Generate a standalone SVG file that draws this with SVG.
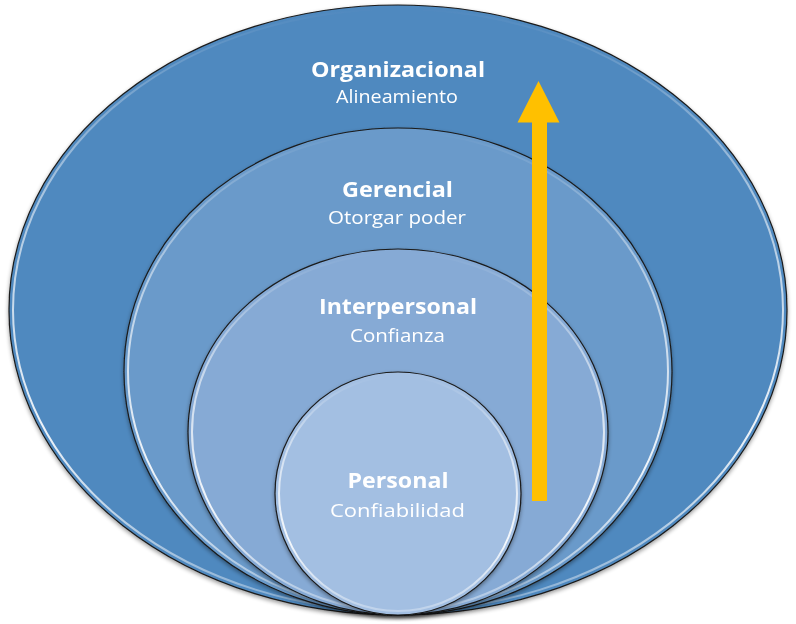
<svg xmlns="http://www.w3.org/2000/svg" width="796" height="624" viewBox="0 0 796 624">
<defs>
<linearGradient id="hl" x1="0" y1="0" x2="0" y2="1">
<stop offset="0" stop-color="#fff" stop-opacity="0"/>
<stop offset="0.3" stop-color="#fff" stop-opacity="0.5"/>
<stop offset="0.7" stop-color="#fff" stop-opacity="0.9"/>
<stop offset="1" stop-color="#fff" stop-opacity="0.3"/>
</linearGradient>
<filter id="sh" x="-5%" y="-5%" width="110%" height="110%">
<feGaussianBlur in="SourceAlpha" stdDeviation="2"/>
<feOffset dy="2"/>
<feComponentTransfer><feFuncA type="linear" slope="0.4"/></feComponentTransfer>
<feMerge><feMergeNode/><feMergeNode in="SourceGraphic"/></feMerge>
</filter>
</defs>
<style>
.ring{stroke:#1a1a1a;stroke-width:1.2}
.hl{fill:none;stroke:url(#hl);stroke-width:2}
.t{font-family:"Open Sans","Noto Sans","Liberation Sans",sans-serif;fill:#fff;text-anchor:middle}
.b{font-weight:bold;font-size:22px}
.r{font-size:18px}
</style>
<rect width="796" height="624" fill="#fff"/>
<g id="organizacional" filter="url(#sh)">
<ellipse class="ring" cx="398" cy="310" rx="389" ry="305" fill="#5089BF"/>
<ellipse class="hl" cx="398" cy="310" rx="385" ry="301"/>
<text class="t b" x="398" y="77" textLength="174" lengthAdjust="spacingAndGlyphs">Organizacional</text>
<text class="t r" x="397" y="103" textLength="122" lengthAdjust="spacingAndGlyphs">Alineamiento</text>
</g>
<g id="gerencial" filter="url(#sh)">
<ellipse class="ring" cx="398" cy="371.5" rx="274" ry="243.5" fill="#6A9ACA"/>
<ellipse class="hl" cx="398" cy="371.5" rx="270" ry="239.5"/>
<text class="t b" x="397.5" y="197" textLength="111" lengthAdjust="spacingAndGlyphs">Gerencial</text>
<text class="t r" x="397" y="224" textLength="138" lengthAdjust="spacingAndGlyphs">Otorgar poder</text>
</g>
<g id="interpersonal" filter="url(#sh)">
<ellipse class="ring" cx="398" cy="432" rx="210" ry="183" fill="#86AAD5"/>
<ellipse class="hl" cx="398" cy="432" rx="206" ry="179"/>
<text class="t b" x="398" y="314" textLength="158" lengthAdjust="spacingAndGlyphs">Interpersonal</text>
<text class="t r" x="397.5" y="342" textLength="95" lengthAdjust="spacingAndGlyphs">Confianza</text>
</g>
<g id="personal" filter="url(#sh)">
<ellipse class="ring" cx="398" cy="493.5" rx="123" ry="121.5" fill="#A3BFE2"/>
<ellipse class="hl" cx="398" cy="493.5" rx="119" ry="117.5"/>
<text class="t b" x="398" y="488" textLength="101" lengthAdjust="spacingAndGlyphs">Personal</text>
<text class="t r" x="397.5" y="517" textLength="135" lengthAdjust="spacingAndGlyphs">Confiabilidad</text>
</g>
<g id="connectors">
<polygon points="532,501 547,501 547,122.5 559.5,122.5 538.5,81 517.5,122.5 532,122.5" fill="#FFC000"/>
</g>
</svg>
